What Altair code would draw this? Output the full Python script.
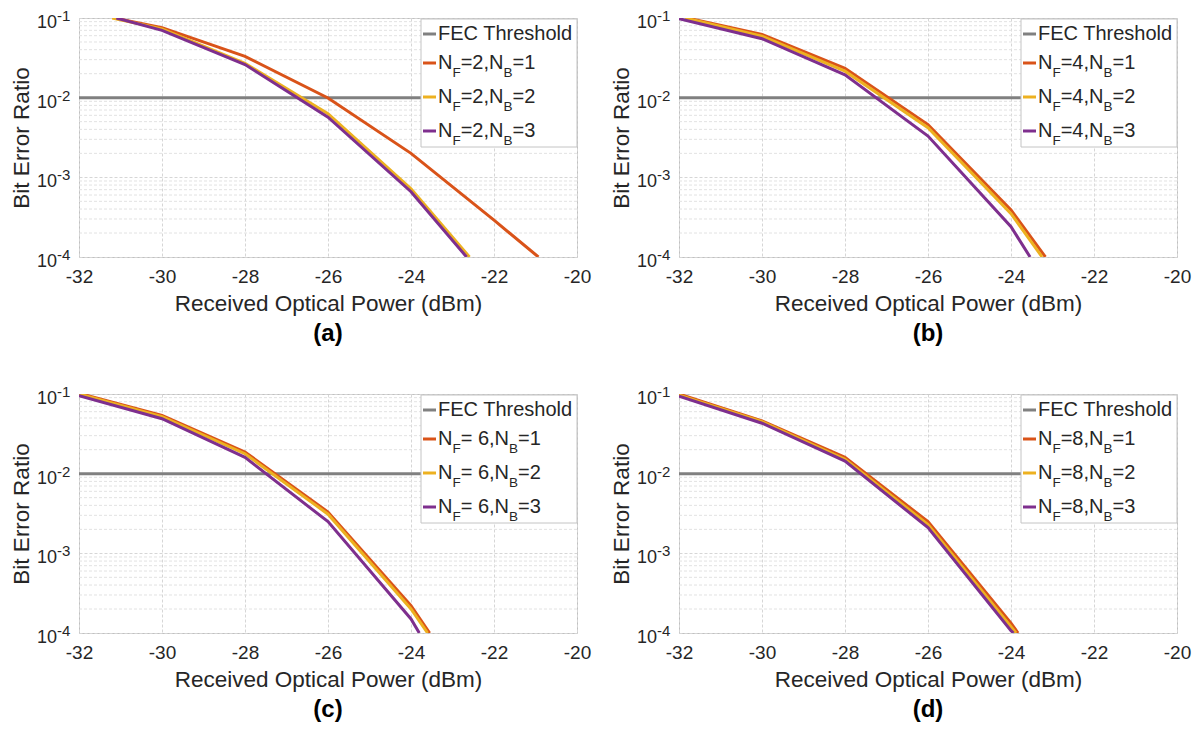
import altair as alt
import pandas as pd

FONT = "Liberation Sans"
TXT = "#262626"

# ---------------- axis / tick data ----------------
x_ticks = [-32, -30, -28, -26, -24, -22, -20]
y_ticks = [1e-1, 1e-2, 1e-3, 1e-4]
y_exps = ["-1", "-2", "-3", "-4"]
minor_y = [2e-4, 3e-4, 4e-4, 5e-4, 6e-4, 7e-4, 8e-4, 9e-4,
           2e-3, 3e-3, 4e-3, 5e-3, 6e-3, 7e-3, 8e-3, 9e-3,
           2e-2, 3e-2, 4e-2, 5e-2, 6e-2, 7e-2, 8e-2, 9e-2]
fec_x = [-32, -20]
fec_y = [1e-2, 1e-2]

panel_tags = ["(a)", "(b)", "(c)", "(d)"]
nf_text = ["=2,N", "=4,N", "= 6,N", "=8,N"]
nb_text = ["=1", "=2", "=3"]
series_names = ["NB1", "NB2", "NB3"]
series_colors = ["#D95319", "#EDB120", "#7E2F8E"]
fec_color = "#808080"

# ---------------- series data ----------------
# panel (a): N_F = 2
a1_x = [-31.15, -30, -28, -26, -24, -22, -20.93]
a1_y = [0.1, 0.0756, 0.033, 0.0099, 0.0020, 2.9e-4, 1e-4]
a2_x = [-31.2, -30, -28, -26, -24, -22.59]
a2_y = [0.1, 0.073, 0.027, 0.0063, 7.2e-4, 1e-4]
a3_x = [-31.1, -30, -28, -26, -24, -22.66]
a3_y = [0.1, 0.070, 0.026, 0.0057, 6.6e-4, 1e-4]
# panel (b): N_F = 4
b1_x = [-31.8, -30, -28, -26, -24, -23.17]
b1_y = [0.1, 0.062, 0.0234, 0.0046, 3.9e-4, 1e-4]
b2_x = [-31.85, -30, -28, -26, -24, -23.25]
b2_y = [0.1, 0.059, 0.0215, 0.0042, 3.5e-4, 1e-4]
b3_x = [-32, -30, -28, -26, -24, -23.54]
b3_y = [0.098, 0.055, 0.0193, 0.0033, 2.4e-4, 1e-4]
# panel (c): N_F = 6
c1_x = [-32, -30, -28, -26, -24, -23.55]
c1_y = [0.102, 0.054, 0.0187, 0.0033, 2.2e-4, 1e-4]
c2_x = [-32, -30, -28, -26, -24, -23.6]
c2_y = [0.1, 0.052, 0.0178, 0.0031, 2.0e-4, 1e-4]
c3_x = [-32, -30, -28, -26, -24, -23.8]
c3_y = [0.095, 0.049, 0.016, 0.0025, 1.5e-4, 1e-4]
# panel (d): N_F = 8
d1_x = [-32, -30, -28, -26, -24, -23.83]
d1_y = [0.1, 0.046, 0.016, 0.0025, 1.33e-4, 1e-4]
d2_x = [-32, -30, -28, -26, -24, -23.88]
d2_y = [0.097, 0.045, 0.0152, 0.0023, 1.2e-4, 1e-4]
d3_x = [-32, -30, -28, -26, -24, -23.94]
d3_y = [0.094, 0.043, 0.0144, 0.0021, 1.07e-4, 1e-4]

panels = [
    [(a1_x, a1_y), (a2_x, a2_y), (a3_x, a3_y)],
    [(b1_x, b1_y), (b2_x, b2_y), (b3_x, b3_y)],
    [(c1_x, c1_y), (c2_x, c2_y), (c3_x, c3_y)],
    [(d1_x, d1_y), (d2_x, d2_y), (d3_x, d3_y)],
]

W, H = 498, 239
LEG_W, LEG_H = 156, 128
BIG, SUB = 20, 13.5

# Arial-compatible advance widths (em) for the legend glyphs
CW = {"N": 0.722, "F": 0.611, "B": 0.667, "=": 0.584, ",": 0.278, " ": 0.278,
      "1": 0.556, "2": 0.556, "3": 0.556, "4": 0.556, "6": 0.556, "8": 0.556}


def tw(s, size):
    return sum(CW.get(ch, 0.556) for ch in s) * size


xscale = alt.Scale(domain=[-32, -20], nice=False, zero=False)
yscale = alt.Scale(type="log", domain=[1e-4, 1e-1], nice=False)


def make_panel(i):
    rows = []
    for name, (xs, ys) in zip(series_names, panels[i]):
        for xv, yv in zip(xs, ys):
            rows.append({"p": xv, "ber": yv, "s": name})
    df = pd.DataFrame(rows)

    xaxis = alt.Axis(values=x_ticks, title="Received Optical Power (dBm)",
                     labelExpr="toString(datum.value)",
                     ticks=False, labelPadding=10, titlePadding=6,
                     labelFontSize=19, titleFontSize=22.5,
                     labelColor=TXT, titleColor=TXT, titleFontWeight="normal",
                     labelFont=FONT, titleFont=FONT, domain=False,
                     grid=True, gridColor="#d6d6d6", gridDash=[3, 2],
                     labelFlush=False)
    yaxis = alt.Axis(values=y_ticks, labels=False, ticks=False, domain=False,
                     title="Bit Error Ratio", titleFontSize=22.5,
                     titleColor=TXT, titleFont=FONT, titleFontWeight="normal",
                     titlePadding=46, grid=True, gridColor="#d6d6d6",
                     gridDash=[3, 2])

    fec = alt.Chart(pd.DataFrame({"p": fec_x, "ber": fec_y})).mark_line(
        color=fec_color, strokeWidth=3, clip=True
    ).encode(x=alt.X("p:Q", scale=xscale, axis=xaxis),
             y=alt.Y("ber:Q", scale=yscale, axis=yaxis))

    minor = alt.Chart(pd.DataFrame({"ber": minor_y})).mark_rule(
        color="#e2e2e2", strokeDash=[3, 2], strokeWidth=1
    ).encode(y=alt.Y("ber:Q", scale=yscale), x=alt.value(0), x2=alt.value(W))

    lines = alt.Chart(df).mark_line(strokeWidth=3, clip=True).encode(
        x=alt.X("p:Q", scale=xscale),
        y=alt.Y("ber:Q", scale=yscale),
        color=alt.Color("s:N", scale=alt.Scale(domain=series_names, range=series_colors),
                        legend=None),
        order=alt.Order("p:Q"),
    )

    # y tick labels 10^k with superscript exponent
    tdf = pd.DataFrame({"ber": y_ticks, "e": y_exps})
    ten = alt.Chart(tdf).mark_text(align="right", baseline="middle", dy=5, fontSize=18,
                                   font=FONT, color=TXT).encode(
        y=alt.Y("ber:Q", scale=yscale), x=alt.value(-22), text=alt.value("10"))
    expo = alt.Chart(tdf).mark_text(align="left", baseline="middle", dy=-2, fontSize=15,
                                    font=FONT, color=TXT).encode(
        y=alt.Y("ber:Q", scale=yscale), x=alt.value(-22), text="e:N")

    # manual legend
    L = W - LEG_W
    box = alt.Chart(pd.DataFrame({"k": [0]})).mark_rect(
        fill="white", stroke="#c4c4c4", strokeWidth=1
    ).encode(x=alt.value(L), x2=alt.value(W), y=alt.value(1), y2=alt.value(1 + LEG_H))

    row_y = [16, 45, 79, 113]
    sw = pd.DataFrame({"ry": row_y, "c": [fec_color] + series_colors})
    swatch = alt.Chart(sw).mark_rule(strokeWidth=3).encode(
        x=alt.value(L + 2), x2=alt.value(L + 15),
        y=alt.Y("ry:Q", scale=None), color=alt.Color("c:N", scale=None))

    big_rows, sub_rows = [], []
    tx0 = L + 17
    big_rows.append({"px": tx0, "py": row_y[0], "t": "FEC Threshold"})
    for r in range(3):
        yy = row_y[r + 1]
        xx = tx0
        big_rows.append({"px": xx, "py": yy, "t": "N"})
        xx += tw("N", BIG)
        sub_rows.append({"px": xx, "py": yy + 10, "t": "F"})
        xx += tw("F", SUB)
        big_rows.append({"px": xx, "py": yy, "t": nf_text[i]})
        xx += tw(nf_text[i], BIG)
        sub_rows.append({"px": xx, "py": yy + 10, "t": "B"})
        xx += tw("B", SUB)
        big_rows.append({"px": xx, "py": yy, "t": nb_text[r]})
    leg_big = alt.Chart(pd.DataFrame(big_rows)).mark_text(
        align="left", baseline="middle", fontSize=BIG, font=FONT, color=TXT
    ).encode(x=alt.X("px:Q", scale=None), y=alt.Y("py:Q", scale=None), text="t:N")
    leg_sub = alt.Chart(pd.DataFrame(sub_rows)).mark_text(
        align="left", baseline="middle", fontSize=SUB, font=FONT, color=TXT
    ).encode(x=alt.X("px:Q", scale=None), y=alt.Y("py:Q", scale=None), text="t:N")

    tag = alt.Chart(pd.DataFrame({"t": [panel_tags[i]]})).mark_text(
        align="center", baseline="middle", fontSize=24, fontWeight="bold",
        font=FONT, color="black"
    ).encode(x=alt.value(W / 2), y=alt.value(H + 77), text="t:N")

    return alt.layer(fec, minor, lines, box, swatch, leg_big, leg_sub, ten, expo, tag).properties(
        width=W, height=H)


top = alt.hconcat(make_panel(0), make_panel(1), spacing=17)
bottom = alt.hconcat(make_panel(2), make_panel(3), spacing=17)
chart = alt.vconcat(top, bottom, spacing=37).properties(
    padding={"left": 1, "top": 0, "right": 0, "bottom": 0}, background="white"
).configure_view(stroke="#c0c0c0", strokeWidth=1)

chart.save("out.html", embed_options={"renderer": "svg", "actions": False})
